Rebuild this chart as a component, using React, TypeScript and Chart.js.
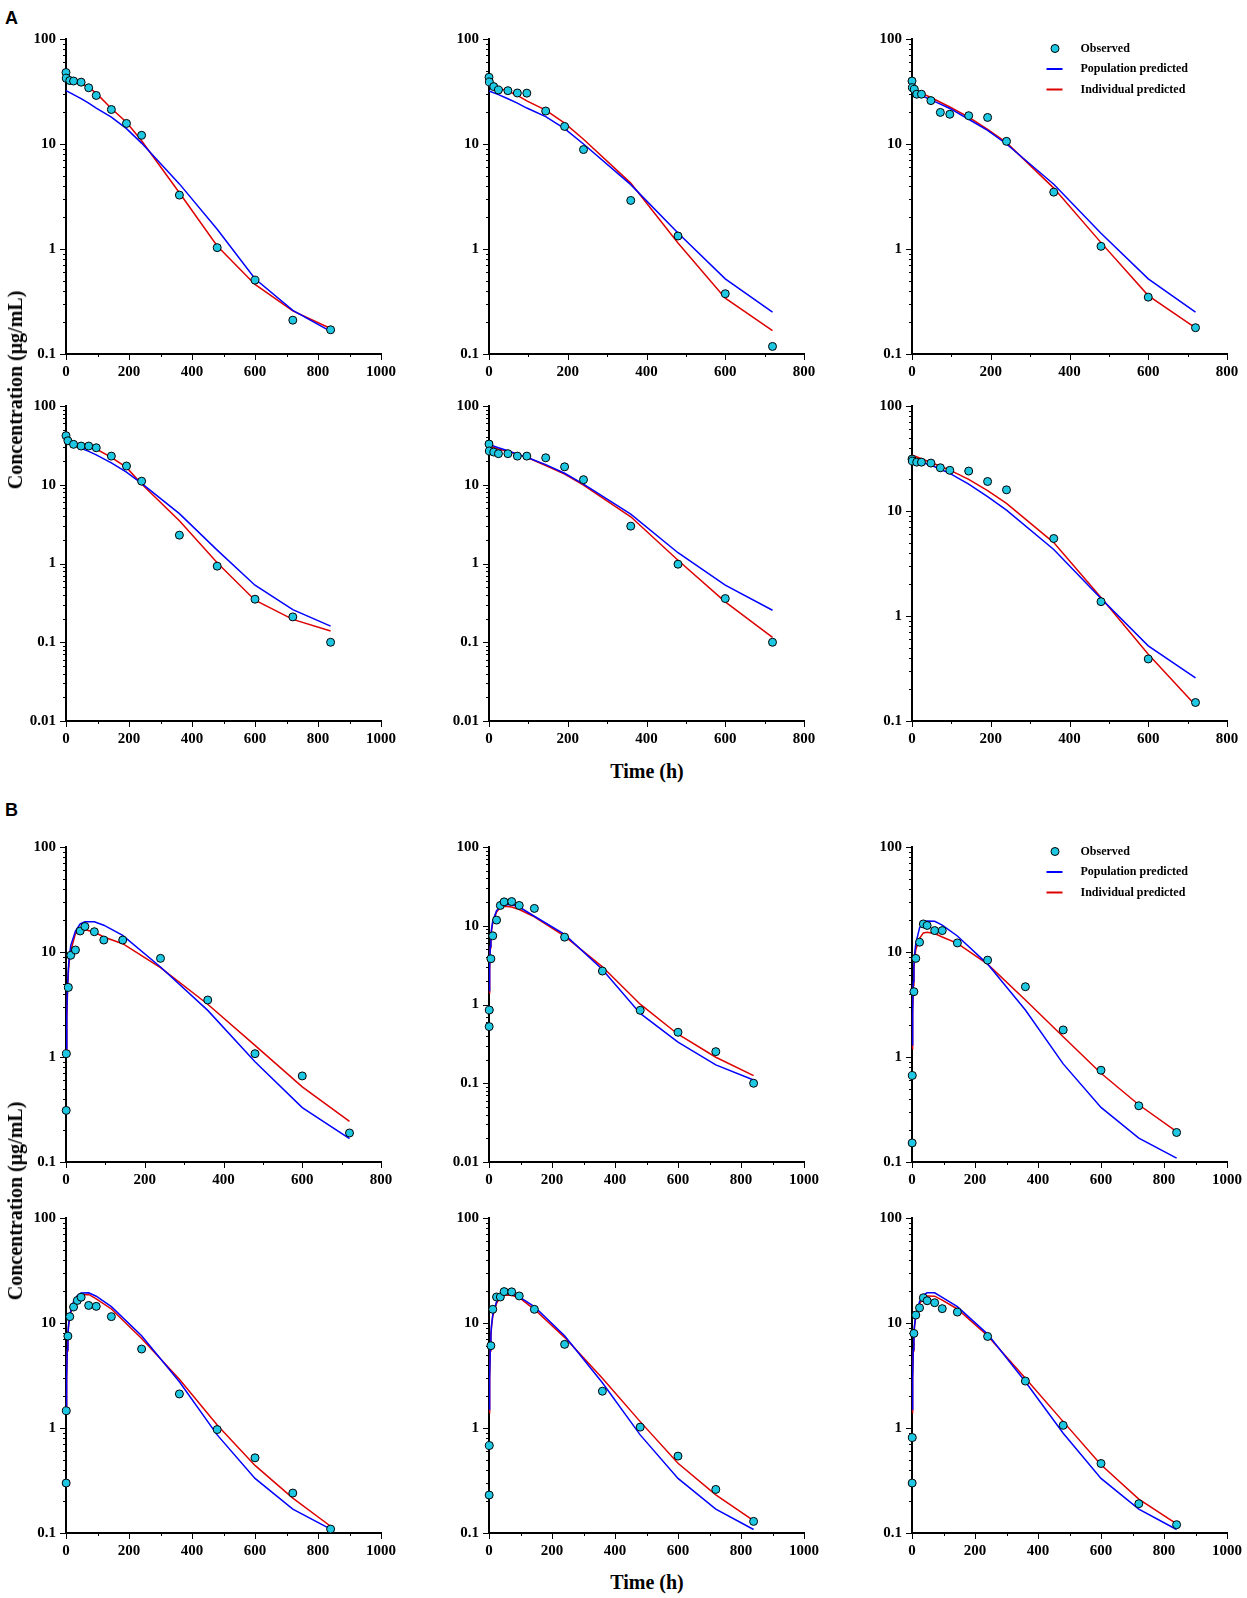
import React, { useEffect, useRef } from 'react';
import { Chart, registerables } from 'chart.js';

Chart.register(...registerables);

// ---------- sampling times ----------
const A_OBS_TIMES = [0, 1, 6, 12, 24, 48, 72, 96, 144, 192, 240, 360, 480, 600, 720, 840];
const A_LINE_TIMES = [0, 24, 48, 72, 96, 144, 192, 240, 360, 480, 600, 720, 840];
const B_OBS_TIMES = [0.5, 1, 6, 12, 24, 36, 48, 72, 96, 144, 240, 360, 480, 600, 720, 840];
const B_LINE_TIMES = [1, 2, 4, 6, 8, 12, 24, 36, 48, 72, 96, 144, 240, 360, 480, 600, 720, 840];

// ---------- panel A (observed / population predicted / individual predicted) ----------
const A1_OBS = [48, 42.4, null, 40.2, 39.8, 38.8, 34.3, 29, 21.3, 15.7, 12.1, 3.26, 1.03, 0.505, 0.21, 0.17];
const A1_POP = [32.3, 29.5, 27, 24.5, 22, 18, 14, 10.2, 4.17, 1.54, 0.52, 0.26, 0.164];
const A1_IND = [44.6, 40.8, 37.9, 34.5, 30.5, 21.8, 16.1, 10.75, 3.43, 1.07, 0.46, 0.257, 0.175];

const A2_OBS = [43.2, 39, null, 35.2, 32.7, 32.2, 30.6, 30.5, 20.6, 14.7, 8.85, 2.9, 1.33, 0.375, 0.118, null];
const A2_POP = [32, 29.5, 27, 24.5, 22, 18.2, 14, 10, 4.1, 1.42, 0.52, 0.25, null];
const A2_IND = [36, 34, 32, 29, 25.7, 21, 15.8, 11.1, 4.24, 1.14, 0.34, 0.167, null];

const A3_OBS = [39.8, 34.4, 33.2, 29.8, 29.8, 25.9, 20, 19.2, 18.6, 17.9, 10.6, 3.48, 1.06, 0.348, 0.178, null];
const A3_POP = [31.6, 29, 26.3, 24, 21.8, 17.2, 13.5, 10, 4.14, 1.41, 0.52, 0.25, null];
const A3_IND = [33.2, 30.5, 27.7, 25, 22.5, 18, 13.8, 10.3, 3.8, 1.15, 0.36, 0.177, null];

const A4_OBS = [42, null, 36.2, null, 32.6, 31, 31, 29.5, 23.1, 17.3, 11.1, 2.29, 0.925, 0.352, 0.21, 0.1];
const A4_POP = [35, 32, 29, 26.5, 24, 19, 14.5, 10.4, 4.3, 1.48, 0.53, 0.26, 0.16];
const A4_IND = [40, 35, 31.9, 30, 28.4, 22.3, 16.6, 10.2, 3.49, 1.02, 0.342, 0.195, 0.139];

const A5_OBS = [32.9, 26.8, null, 26, 24.8, 24.8, 23.1, 23.1, 22, 16.9, 11.6, 2.98, 0.98, 0.359, 0.1, null];
const A5_POP = [32.6, 29.5, 27, 24.5, 22.3, 18, 14, 10.2, 4.24, 1.37, 0.53, 0.255, null];
const A5_IND = [31, 28.5, 26.5, 24.3, 22.3, 17.5, 13.7, 9.9, 3.92, 1.1, 0.326, 0.115, null];

const A6_OBS = [31.2, 29.9, null, 29.2, 29.2, 28.6, 25.8, 24.4, 24, 19.1, 15.9, 5.47, 1.37, 0.39, 0.15, null];
const A6_POP = [30.5, 29, 27.4, 25, 22.8, 18, 13.7, 10.2, 4.3, 1.47, 0.52, 0.257, null];
const A6_IND = [34.1, 31.5, 29, 26.7, 24.5, 20, 15.6, 11.8, 5, 1.5, 0.433, 0.141, null];

// ---------- panel B ----------
const B1_OBS = [0.31, 1.076, 4.6, 9.3, 10.45, 15.85, 17.5, 15.6, 13, 13, 8.7, 3.49, 1.076, 0.66, 0.189, null];
const B1_POP = [1.2, 2.5, 4.8, 7, 8.7, 11.5, 15.8, 18.5, 19.4, 19.4, 18, 14.4, 7.2, 2.78, 0.9, 0.33, 0.167, null];
const B1_IND = [1.1, 2.3, 4.4, 6.4, 8, 10.2, 15, 16.1, 16.3, 15.5, 13.9, 12, 7.1, 3.18, 1.29, 0.52, 0.244, null];

const B2_OBS = [0.524, 0.851, 3.81, 7.45, 11.8, 18.1, 20.1, 20.3, 18.1, 16.6, 7.17, 2.66, 0.844, 0.444, 0.252, 0.1];
const B2_POP = [1.5, 3, 5.5, 7.5, 9, 11.5, 15.5, 17.5, 18.5, 18.5, 17.3, 13.2, 7.75, 2.79, 0.77, 0.332, 0.171, 0.11];
const B2_IND = [1.4, 2.8, 5.2, 7.2, 8.7, 11, 15, 17, 17.7, 17.3, 16.1, 13, 7.4, 3.01, 1.01, 0.419, 0.214, 0.125];

const B3_OBS = [0.152, 0.667, 4.19, 8.69, 12.4, 18.5, 17.9, 16, 16, 12.2, 8.37, 4.67, 1.81, 0.748, 0.343, 0.191];
const B3_POP = [1.3, 2.7, 5.2, 7.5, 9.3, 12, 17, 19.3, 19.7, 19.6, 18, 14.2, 7.67, 2.8, 0.86, 0.331, 0.169, 0.109];
const B3_IND = [1.2, 2.5, 4.8, 6.8, 8.3, 10.5, 13.5, 15.2, 15.4, 15, 13.9, 12.1, 7.67, 3.49, 1.56, 0.7, 0.351, 0.195];

const B4_OBS = [0.299, 1.46, 7.5, 11.5, 14.2, 16.4, 17.6, 14.7, 14.4, 11.5, 5.65, 2.11, 0.966, 0.52, 0.24, 0.109];
const B4_POP = [1.5, 3, 5.6, 7.8, 9.5, 12, 16, 18.3, 19.3, 19.4, 18, 14.3, 7.56, 2.76, 0.86, 0.331, 0.169, 0.109];
const B4_IND = [1.4, 2.9, 5.4, 7.5, 9.2, 11.6, 15.4, 17.6, 18.5, 18.7, 17, 13.6, 7.13, 2.91, 1.07, 0.44, 0.215, 0.116];

const B5_OBS = [0.23, 0.681, 6.08, 13.5, 17.7, 17.7, 19.9, 19.8, 18.1, 13.5, 6.26, 2.24, 1.02, 0.54, 0.26, 0.129];
const B5_POP = [1.5, 3, 5.6, 7.8, 9.5, 12, 16, 18.3, 19.1, 19.1, 17.7, 14.3, 7.56, 2.7, 0.86, 0.331, 0.169, 0.108];
const B5_IND = [1.4, 2.9, 5.4, 7.5, 9.2, 11.6, 15.4, 17.6, 18.4, 18.4, 17.4, 13.5, 7.3, 2.97, 1.15, 0.462, 0.231, 0.131];

const B6_OBS = [0.299, 0.811, 7.96, 11.9, 13.96, 17.4, 16.3, 15.6, 13.7, 12.7, 7.45, 2.8, 1.06, 0.459, 0.19, 0.12];
const B6_POP = [1.5, 3, 5.6, 7.8, 9.5, 12, 16, 18.5, 19.4, 19.4, 17.5, 14.3, 7.84, 2.76, 0.89, 0.331, 0.169, 0.108];
const B6_IND = [1.4, 2.9, 5.4, 7.5, 9.2, 11.6, 15.2, 17.3, 18.1, 18, 16.5, 13.6, 7.56, 2.97, 1.15, 0.446, 0.21, 0.122];

// ---------- axes ----------
const PANEL_X_MAX = [1000, 800, 800, 1000, 800, 800, 800, 1000, 1000, 1000, 1000, 1000];
const PANEL_Y_MIN = [0.1, 0.1, 0.1, 0.01, 0.01, 0.1, 0.1, 0.01, 0.1, 0.1, 0.1, 0.1];
const Y_MAX = 100;
const Y_DECADES = [0.01, 0.1, 1, 10, 100];
const X_STEP = 200;
const LEGEND_PANELS = [2, 8];
const SERIES_LABELS = ['Observed', 'Population predicted', 'Individual predicted'];

const PANELS = [
  { t: A_OBS_TIMES, obs: A1_OBS, lt: A_LINE_TIMES, pop: A1_POP, ind: A1_IND },
  { t: A_OBS_TIMES, obs: A2_OBS, lt: A_LINE_TIMES, pop: A2_POP, ind: A2_IND },
  { t: A_OBS_TIMES, obs: A3_OBS, lt: A_LINE_TIMES, pop: A3_POP, ind: A3_IND },
  { t: A_OBS_TIMES, obs: A4_OBS, lt: A_LINE_TIMES, pop: A4_POP, ind: A4_IND },
  { t: A_OBS_TIMES, obs: A5_OBS, lt: A_LINE_TIMES, pop: A5_POP, ind: A5_IND },
  { t: A_OBS_TIMES, obs: A6_OBS, lt: A_LINE_TIMES, pop: A6_POP, ind: A6_IND },
  { t: B_OBS_TIMES, obs: B1_OBS, lt: B_LINE_TIMES, pop: B1_POP, ind: B1_IND },
  { t: B_OBS_TIMES, obs: B2_OBS, lt: B_LINE_TIMES, pop: B2_POP, ind: B2_IND },
  { t: B_OBS_TIMES, obs: B3_OBS, lt: B_LINE_TIMES, pop: B3_POP, ind: B3_IND },
  { t: B_OBS_TIMES, obs: B4_OBS, lt: B_LINE_TIMES, pop: B4_POP, ind: B4_IND },
  { t: B_OBS_TIMES, obs: B5_OBS, lt: B_LINE_TIMES, pop: B5_POP, ind: B5_IND },
  { t: B_OBS_TIMES, obs: B6_OBS, lt: B_LINE_TIMES, pop: B6_POP, ind: B6_IND },
];

// ---------- layout & style ----------
const COL_LEFT = [66, 489, 912];
const ROW_TOP = [39, 406, 847, 1218];
const PLOT = 315;
const PAD_L = 60;
const PAD_T = 12;
const PAD_R = 32;
const PAD_B = 30;
const CYAN = '#1FC8E2';
const BLUE = '#0000FF';
const RED = '#DD0000';
const SERIF = '"Liberation Serif", "Times New Roman", serif';

function toPoints(times: number[], vals: (number | null)[]) {
  const out: { x: number; y: number }[] = [];
  times.forEach((t, i) => {
    const v = vals[i];
    if (v !== null && v !== undefined) out.push({ x: t, y: v });
  });
  return out;
}

const axesPlugin = {
  id: 'pkAxes',
  beforeDatasetsDraw(chart: any) {
    const { ctx, chartArea, scales } = chart;
    const { left, right, top, bottom } = chartArea;
    const x = scales.x;
    const y = scales.y;
    ctx.save();
    ctx.strokeStyle = '#000';
    ctx.lineWidth = 1;
    const e0 = Math.floor(Math.log10(y.min) + 1e-9);
    const e1 = Math.ceil(Math.log10(y.max) - 1e-9);
    for (let e = e0; e <= e1; e++) {
      for (let m = 1; m <= 9; m++) {
        const v = m * Math.pow(10, e);
        if (v < y.min * 0.999 || v > y.max * 1.001) continue;
        const py = Math.round(y.getPixelForValue(v)) + 0.5;
        const len = m === 1 ? 6 : 3;
        ctx.beginPath();
        ctx.moveTo(left - len, py);
        ctx.lineTo(left, py);
        ctx.stroke();
      }
    }
    for (let v = x.min; v <= x.max + 1e-6; v += X_STEP / 2) {
      const px = Math.round(x.getPixelForValue(v)) + 0.5;
      const len = Math.round(v) % X_STEP === 0 ? 6 : 3;
      ctx.beginPath();
      ctx.moveTo(px, bottom);
      ctx.lineTo(px, bottom + len);
      ctx.stroke();
    }
    ctx.lineWidth = 2;
    ctx.beginPath();
    ctx.moveTo(left, top - 1);
    ctx.lineTo(left, bottom);
    ctx.lineTo(right + 1, bottom);
    ctx.stroke();
    ctx.restore();
  },
};

function makeLegendPlugin(dy: number) {
  return {
    id: 'pkLegend',
    afterDatasetsDraw(chart: any) {
      const { ctx, chartArea } = chart;
      const { left, top } = chartArea;
      ctx.save();
      ctx.font = 'bold 12px ' + SERIF;
      ctx.textBaseline = 'middle';
      ctx.textAlign = 'left';
      chart.data.datasets.forEach((d: any, i: number) => {
        const cy = top + dy + i * 20.5;
        if (i === 0) {
          ctx.beginPath();
          ctx.arc(left + 143, cy, 4, 0, Math.PI * 2);
          ctx.fillStyle = CYAN;
          ctx.fill();
          ctx.lineWidth = 1;
          ctx.strokeStyle = '#000';
          ctx.stroke();
        } else {
          ctx.beginPath();
          ctx.moveTo(left + 134.5, cy);
          ctx.lineTo(left + 150.5, cy);
          ctx.lineWidth = 2;
          ctx.strokeStyle = d.borderColor;
          ctx.stroke();
        }
        ctx.fillStyle = '#000';
        ctx.fillText(d.label, left + 168.5, cy);
      });
      ctx.restore();
    },
  };
}

function Panel({ index }: { index: number }) {
  const ref = useRef<HTMLCanvasElement | null>(null);
  const row = Math.floor(index / 3);
  const col = index % 3;
  const p = PANELS[index];
  const xMax = PANEL_X_MAX[index];
  const yMin = PANEL_Y_MIN[index];

  useEffect(() => {
    if (!ref.current) return;
    const tickFont = { family: SERIF, size: 15, weight: 'bold' as const };
    const plugins: any[] = [axesPlugin];
    if (LEGEND_PANELS.includes(index)) plugins.push(makeLegendPlugin(row < 2 ? 9.5 : 4.5));
    const chart = new Chart(ref.current, {
      type: 'scatter',
      data: {
        datasets: [
          {
            label: SERIES_LABELS[0],
            data: toPoints(p.t, p.obs),
            showLine: false,
            pointRadius: 4,
            pointBackgroundColor: CYAN,
            pointBorderColor: '#000',
            pointBorderWidth: 1,
            clip: false,
          },
          {
            label: SERIES_LABELS[1],
            data: toPoints(p.lt, p.pop),
            showLine: true,
            borderColor: BLUE,
            borderWidth: 1.5,
            pointRadius: 0,
            tension: 0,
            clip: false,
          },
          {
            label: SERIES_LABELS[2],
            data: toPoints(p.lt, p.ind),
            showLine: true,
            borderColor: RED,
            borderWidth: 1.5,
            pointRadius: 0,
            tension: 0,
            clip: false,
          },
        ],
      } as any,
      options: {
        animation: false,
        responsive: true,
        maintainAspectRatio: false,
        events: [],
        layout: { padding: { top: PAD_T, right: PAD_R, left: 0, bottom: 0 } },
        plugins: { legend: { display: false }, tooltip: { enabled: false } },
        scales: {
          x: {
            type: 'linear',
            min: 0,
            max: xMax,
            grid: { display: false, drawTicks: false },
            border: { display: false },
            ticks: {
              stepSize: X_STEP,
              padding: 9,
              color: '#000',
              font: tickFont,
              maxRotation: 0,
              autoSkip: false,
              callback: (v: any) => String(Number(v)),
            },
            afterFit: (s: any) => {
              s.height = PAD_B;
              s.paddingLeft = 0;
              s.paddingRight = 0;
            },
          },
          y: {
            type: 'logarithmic',
            min: yMin,
            max: Y_MAX,
            grid: { display: false, drawTicks: false },
            border: { display: false },
            ticks: {
              padding: 10,
              color: '#000',
              font: tickFont,
              autoSkip: false,
              callback: (v: any) => String(Number(v)),
            },
            afterBuildTicks: (s: any) => {
              s.ticks = Y_DECADES.filter((v) => v >= yMin * 0.999 && v <= Y_MAX * 1.001).map((v) => ({ value: v }));
            },
            afterFit: (s: any) => {
              s.width = PAD_L;
              s.paddingTop = 0;
              s.paddingBottom = 0;
            },
          },
        },
      } as any,
      plugins,
    });
    return () => chart.destroy();
  }, []);

  return (
    <div
      style={{
        position: 'absolute',
        left: COL_LEFT[col] - PAD_L,
        top: ROW_TOP[row] - PAD_T,
        width: PLOT + PAD_L + PAD_R,
        height: PLOT + PAD_T + PAD_B,
      }}
    >
      <canvas ref={ref} />
    </div>
  );
}

const labelStyle: React.CSSProperties = {
  position: 'absolute',
  fontFamily: SERIF,
  fontWeight: 'bold',
  fontSize: 20,
  lineHeight: 1,
  whiteSpace: 'nowrap',
  color: '#000',
};

export default function App() {
  return (
    <div style={{ position: 'absolute', left: 0, top: 0, width: 1247, height: 1598, background: '#fff', overflow: 'hidden' }}>
      <div style={{ position: 'absolute', left: 5, top: 9, fontFamily: '"Liberation Sans", Arial, sans-serif', fontWeight: 'bold', fontSize: 18, lineHeight: 1 }}>A</div>
      <div style={{ position: 'absolute', left: 5, top: 801, fontFamily: '"Liberation Sans", Arial, sans-serif', fontWeight: 'bold', fontSize: 18, lineHeight: 1 }}>B</div>
      {PANELS.map((_, i) => (
        <Panel key={i} index={i} />
      ))}
      <div style={{ ...labelStyle, left: 647, top: 761, transform: 'translateX(-50%)' }}>Time (h)</div>
      <div style={{ ...labelStyle, left: 647, top: 1572, transform: 'translateX(-50%)' }}>Time (h)</div>
      <div style={{ ...labelStyle, left: 15, top: 390, transform: 'translate(-50%, -50%) rotate(-90deg)' }}>Concentration (μg/mL)</div>
      <div style={{ ...labelStyle, left: 15, top: 1201, transform: 'translate(-50%, -50%) rotate(-90deg)' }}>Concentration (μg/mL)</div>
    </div>
  );
}
